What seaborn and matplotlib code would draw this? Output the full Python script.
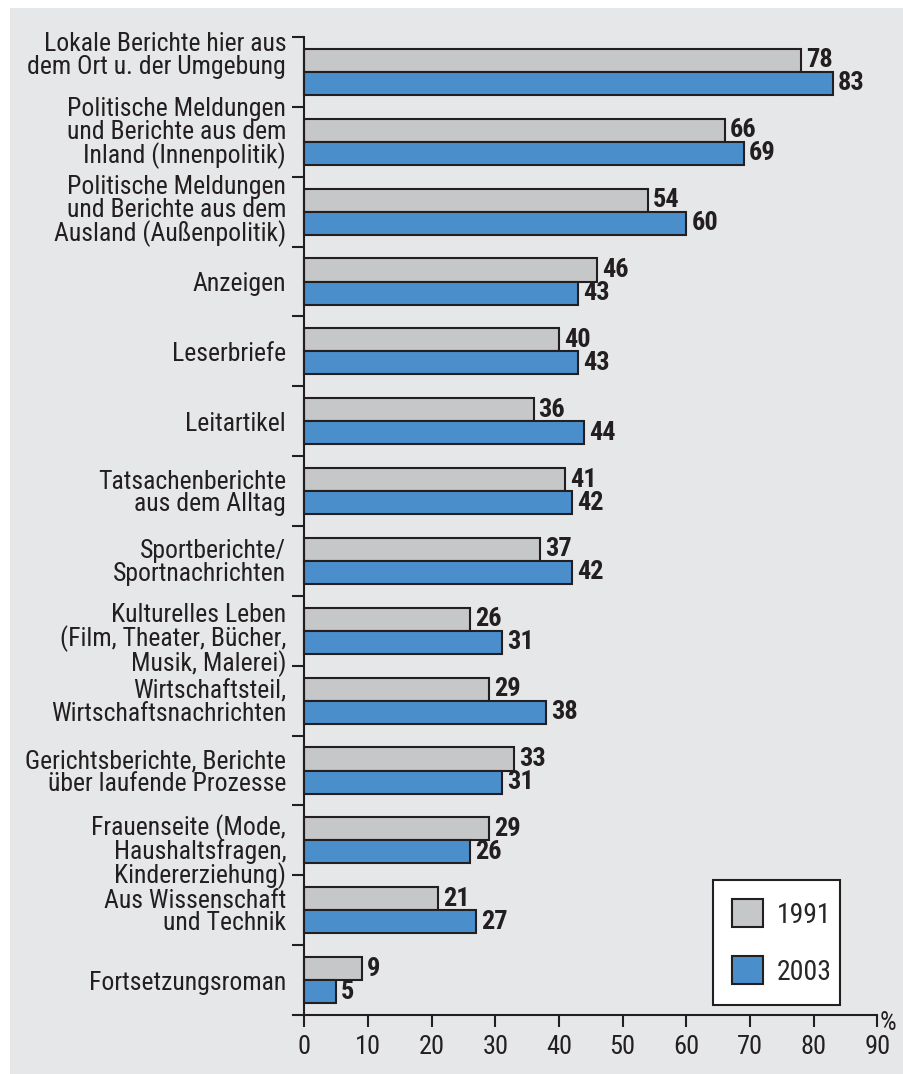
import matplotlib
matplotlib.use("Agg")
import matplotlib.pyplot as plt
import matplotlib.font_manager as fm
from matplotlib.patches import Patch, Rectangle
from matplotlib.transforms import ScaledTranslation
import seaborn as sns
import pandas as pd
import numpy as np

categories = [
    "Lokale Berichte hier aus\ndem Ort u. der Umgebung",
    "Politische Meldungen\nund Berichte aus dem\nInland (Innenpolitik)",
    "Politische Meldungen\nund Berichte aus dem\nAusland (Außenpolitik)",
    "Anzeigen",
    "Leserbriefe",
    "Leitartikel",
    "Tatsachenberichte\naus dem Alltag",
    "Sportberichte/\nSportnachrichten",
    "Kulturelles Leben\n(Film, Theater, Bücher,\nMusik, Malerei)",
    "Wirtschaftsteil,\nWirtschaftsnachrichten",
    "Gerichtsberichte, Berichte\nüber laufende Prozesse",
    "Frauenseite (Mode,\nHaushaltsfragen,\nKindererziehung)",
    "Aus Wissenschaft\nund Technik",
    "Fortsetzungsroman",
]
values_1991 = [78, 66, 54, 46, 40, 36, 41, 37, 26, 29, 33, 29, 21, 9]
values_2003 = [83, 69, 60, 43, 43, 44, 42, 42, 31, 38, 31, 26, 27, 5]
years = ["1991", "2003"]
x_ticks = [0, 10, 20, 30, 40, 50, 60, 70, 80, 90]

# vertical nudges of category labels (pixels, positive = down)
label_nudge_px = [-18, -11, -3, 0, 0, 0, 0, 0, 7, 0, 0, 9, 0, 0]

# font selection
available = {f.name for f in fm.fontManager.ttflist}
font = "DejaVu Sans"
for cand in ["Roboto Condensed", "Liberation Sans Narrow", "DejaVu Sans Condensed", "Liberation Sans"]:
    if cand in available:
        font = cand
        break

sns.set_style("ticks")
plt.rcParams["font.family"] = [font, "DejaVu Sans"]

BG = "#e6e7e8"
GRAY = "#c6c7c9"
BLUE = "#4b8ecc"
DARK = "#231f20"

df = pd.DataFrame({
    "Kategorie": categories * 2,
    "Jahr": [years[0]] * len(categories) + [years[1]] * len(categories),
    "Wert": values_1991 + values_2003,
})

W, H = 904, 1074
fig = plt.figure(figsize=(W / 100, H / 100), dpi=100)
fig.patch.set_facecolor("white")
fig.patches.append(Rectangle((10 / W, 0), 1 - 10 / W, 1 - 8 / H, transform=fig.transFigure,
                             facecolor=BG, edgecolor="none", zorder=-10))

x_left_px, x_right_px = 292.7, 877.3
y_top_px, y_bot_px = 37, 1015
ax = fig.add_axes([x_left_px / W, 1 - y_bot_px / H, (x_right_px - x_left_px) / W, (y_bot_px - y_top_px) / H])
ax.patch.set_alpha(0)

sns.barplot(data=df, y="Kategorie", x="Wert", hue="Jahr", orient="h",
            palette=[GRAY, BLUE], width=0.66, edgecolor=DARK, linewidth=1.5,
            ax=ax, legend=False, saturation=1)

unit = (x_right_px - 304.3) / 90.0
ax.set_xlim(-(304.3 - x_left_px) / unit, 90)
n = len(categories)
ax.set_ylim(n - 0.5, -0.5)

for cont in ax.containers:
    ax.bar_label(cont, padding=3.6, fontsize=19, fontweight="bold", color=DARK)

# spines
for s in ["top", "right"]:
    ax.spines[s].set_visible(False)
ax.spines["left"].set_position(("data", 0))
for s in ["left", "bottom"]:
    ax.spines[s].set_linewidth(1.5)
    ax.spines[s].set_color(DARK)

ax.set_xticks(x_ticks)
ax.set_xticklabels([str(t) for t in x_ticks], fontsize=19, color=DARK)
ax.tick_params(axis="x", direction="out", length=8.5, width=1.5, color=DARK, pad=6)

ax.set_yticks(np.arange(n) - 0.5)
ax.set_yticklabels([])
ax.tick_params(axis="y", which="major", direction="out", length=8.3, width=1.5, color=DARK)
ax.set_yticks(np.arange(n), minor=True)
ax.set_yticklabels(categories, minor=True, fontsize=18.5, color=DARK, linespacing=0.93)
ax.tick_params(axis="y", which="minor", length=0, pad=13)
for lab, dy in zip(ax.get_yticklabels(minor=True), label_nudge_px):
    lab.set_transform(lab.get_transform() + ScaledTranslation(0, -dy / 100, fig.dpi_scale_trans))

ax.set_xlabel("")
ax.set_ylabel("")

ax.annotate("%", xy=(90, n - 0.5), xytext=(2, -6), textcoords="offset points",
            ha="left", va="center", fontsize=19, color=DARK)

handles = [Patch(facecolor=GRAY, edgecolor=DARK, linewidth=1.5),
           Patch(facecolor=BLUE, edgecolor=DARK, linewidth=1.5)]
leg = ax.legend(handles, years, loc="lower left",
                bbox_to_anchor=(713 / W, 1 - 1005 / H, 127 / W, 127 / H),
                bbox_transform=fig.transFigure, mode="expand",
                fontsize=20, frameon=True, fancybox=False, framealpha=1,
                edgecolor=DARK, facecolor="white",
                handlelength=1.1, handleheight=1.15, handletextpad=0.5,
                labelspacing=1.0, borderpad=0.7, borderaxespad=0)
leg.get_frame().set_linewidth(1.5)

fig.savefig("out.png", dpi=100, facecolor="white")
